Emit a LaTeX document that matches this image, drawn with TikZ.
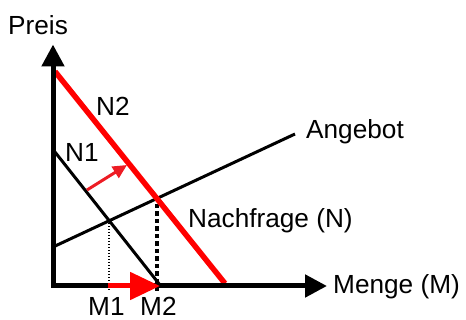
\documentclass[tikz,border=0pt]{standalone}
\usepackage{fontspec}
\setmainfont{Liberation Sans}
\usetikzlibrary{arrows.meta}
\definecolor{nred}{RGB}{255,0,0}
\definecolor{sred}{RGB}{237,28,36}
\begin{document}
\begin{tikzpicture}[x=1pt,y=-1pt,
  lbl/.style={anchor=base west,inner sep=0pt,font=\fontsize{26.2}{30}\selectfont},
  axisline/.style={line width=5pt,line cap=rect,-{Triangle[length=22pt,width=22pt]}},
  curve/.style={line width=3pt},
  shiftcurve/.style={line width=5.5pt,nred},
  thindots/.style={line width=1.5pt,dash pattern=on 1.5pt off 1.5pt},
  thickdots/.style={line width=4.5pt,dash pattern=on 4.5pt off 3pt},
  bigshift/.style={line width=5pt,nred,-{Triangle[length=30pt,width=27pt]}},
  smallshift/.style={line width=3pt,sred,-{Triangle[length=14pt,width=13pt]}}]
\useasboundingbox (0,0) rectangle (466,320);
% coordinates
\coordinate (O) at (53,286);
\coordinate (ytip) at (53,44.5);
\coordinate (xtip) at (327,286);
\coordinate (a0) at (53,247);
\coordinate (a1) at (295,134);
\coordinate (n1a) at (53,149.5);
\coordinate (n1b) at (160,285);
\coordinate (n2a) at (55,71.5);
\coordinate (n2b) at (225,283.5);
\coordinate (e1) at (109,220);
\coordinate (e1b) at (109,292);
\coordinate (e2) at (157,204);
\coordinate (e2b) at (157,293);
\coordinate (m1) at (108,286);
\coordinate (m2) at (160,286);
\coordinate (s0) at (87,190);
\coordinate (s1) at (127,165);
% curves
\draw[curve] (a0) -- (a1);
\draw[curve] (n1a) -- (n1b);
\draw[thindots] (e1) -- (e1b);
\draw[thickdots] (e2) -- (e2b);
\draw[shiftcurve] (n2a) -- (n2b);
% axes
\draw[axisline] (O) -- (ytip);
\draw[axisline] (O) -- (xtip);
% shifts
\draw[bigshift] (m1) -- (m2);
\draw[smallshift] (s0) -- (s1);
% labels
\node[lbl] (preis) at (8,34.3) {Preis};
\node[lbl] (lN2) at (96,116) {N2};
\node[lbl] (lN1) at (65,161.7) {N1};
\node[lbl] (angebot) at (306,138.3) {Angebot};
\node[lbl] (nachfrage) at (188,227.3) {Nachfrage (N)};
\node[lbl] (menge) at (333,293.3) {Menge (M)};
\node[lbl] (lM1) at (88,315.5) {M1};
\node[lbl] (lM2) at (140,315.5) {M2};
\end{tikzpicture}
\end{document}
